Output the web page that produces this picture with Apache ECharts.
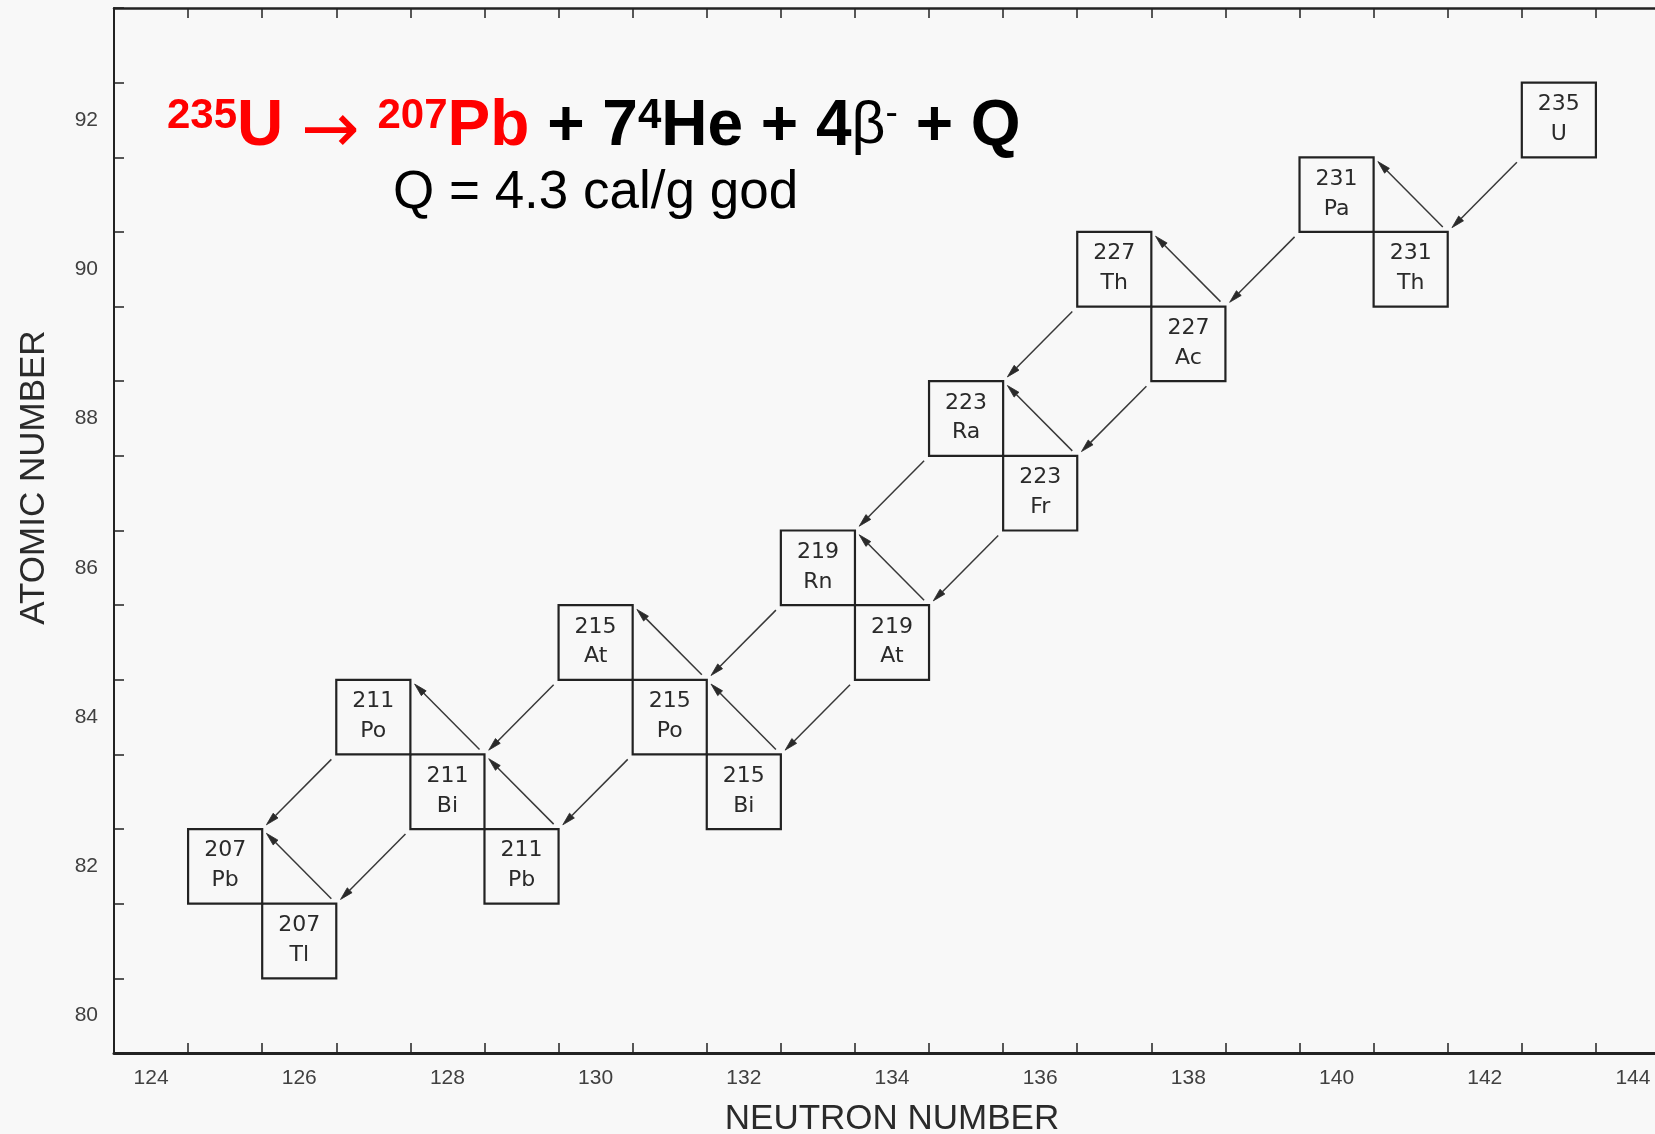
<!DOCTYPE html>
<html>
<head>
<meta charset="utf-8">
<script src="https://cdn.jsdelivr.net/npm/echarts@6/dist/echarts.min.js"></script>
<style>
html,body{margin:0;padding:0;background:#f8f8f8;}
#chart{width:1655px;height:1134px;}
</style>
</head>
<body>
<div id="chart"></div>
<script>
// Axis categories (neutron number N, atomic number Z)
const neutronCategories = ['124','125','126','127','128','129','130','131','132','133','134','135','136','137','138','139','140','141','142','143','144'];
const protonCategories = ['80','81','82','83','84','85','86','87','88','89','90','91','92','93'];

// Nuclides of the 235U decay chain
const massNumbers    = [235, 231, 231, 227, 227, 223, 223, 219, 219, 215, 215, 215, 211, 211, 211, 207, 207];
const elementSymbols = ['U', 'Th','Pa','Ac','Th','Fr','Ra','At','Rn','Bi','Po','At','Pb','Bi','Po','Tl','Pb'];
const neutronNumbers = [143, 141, 140, 138, 137, 136, 135, 134, 133, 132, 131, 130, 129, 128, 127, 126, 125];
const atomicNumbers  = [92,  90,  91,  89,  90,  87,  88,  85,  86,  83,  84,  85,  82,  83,  84,  81,  82];

// Decays: parent index -> daughter index
const decayParent   = [0, 1, 2, 3, 3, 4, 5, 5, 6, 7, 7, 8, 9, 10, 10, 11, 12, 13, 13, 14, 15];
const decayDaughter = [1, 2, 3, 4, 5, 6, 6, 7, 8, 8, 9, 10, 10, 12, 11, 13, 13, 14, 15, 16, 16];

const equationLine2 = 'Q = 4.3 cal/g god';

const chart = echarts.init(document.getElementById('chart'));

const nIdx = n => neutronCategories.indexOf(String(n));
const zIdx = z => protonCategories.indexOf(String(z));

const axisColor = '#222';
const labelColor = '#404040';

const option = {
  backgroundColor: '#f8f8f8',
  animation: false,
  title: [
    {
      text: '{rs|235}{r|U }{arr|→}{r| }{rs|207}{r|Pb}{k| + 7}{ks|4}{k|He + 4}{beta|β}{ksm|-}{k| + Q}',
      left: 167, top: 95, padding: 0,
      textStyle: {
        rich: {
          r:  { color: '#ff0000', fontFamily: 'Liberation Sans', fontWeight: 'bold', fontSize: 64, lineHeight: 64 },
          arr:{ color: '#ff0000', fontFamily: 'DejaVu Sans', fontWeight: 'normal', fontSize: 70, lineHeight: 64, padding: [14, 0, 0, 0] },
          rs: { color: '#ff0000', fontFamily: 'Liberation Sans', fontWeight: 'bold', fontSize: 42, lineHeight: 42, verticalAlign: 'top' },
          k:  { color: '#000', fontFamily: 'Liberation Sans', fontWeight: 'bold', fontSize: 64, lineHeight: 64 },
          ks: { color: '#000', fontFamily: 'Liberation Sans', fontWeight: 'bold', fontSize: 42, lineHeight: 42, verticalAlign: 'top' },
          ksm:{ color: '#000', fontFamily: 'Liberation Sans', fontWeight: 'normal', fontSize: 37, lineHeight: 37, verticalAlign: 'top' },
          beta:{ color: '#000', fontFamily: 'Liberation Sans', fontWeight: 'normal', fontSize: 59, lineHeight: 64 }
        }
      }
    },
    {
      text: equationLine2,
      left: 393, top: 167, padding: 0,
      textStyle: { color: '#000', fontFamily: 'Liberation Sans', fontWeight: 'normal', fontSize: 53, lineHeight: 53 }
    }
  ],
  grid: { left: 114, width: 1556, top: 8, height: 1045, containLabel: false, outerBoundsMode: 'none' },
  xAxis: [
    {
      type: 'category', data: neutronCategories, position: 'bottom', boundaryGap: true,
      name: 'NEUTRON NUMBER', nameLocation: 'middle', nameGap: 49,
      nameTextStyle: { color: '#2a2a2a', fontFamily: 'Liberation Sans', fontSize: 35 },
      axisLine: { lineStyle: { color: axisColor, width: 3 } },
      axisTick: { show: true, inside: true, length: 10, interval: 0, lineStyle: { color: axisColor, width: 1.5 } },
      axisLabel: { interval: 1, margin: 15, color: labelColor, fontFamily: 'Liberation Sans', fontSize: 21 },
      splitLine: { show: false }
    },
    {
      type: 'category', data: neutronCategories, position: 'top', boundaryGap: true,
      axisLine: { lineStyle: { color: axisColor, width: 2.5 } },
      axisTick: { show: true, inside: true, length: 10, interval: 0, lineStyle: { color: axisColor, width: 1.5 } },
      axisLabel: { show: false },
      splitLine: { show: false }
    }
  ],
  yAxis: [
    {
      type: 'category', data: protonCategories, position: 'left', boundaryGap: true,
      name: 'ATOMIC NUMBER', nameLocation: 'middle', nameGap: 62,
      nameTextStyle: { color: '#2a2a2a', fontFamily: 'Liberation Sans', fontSize: 35, padding: [0, 0, 0, 106] },
      axisLine: { lineStyle: { color: axisColor, width: 2 } },
      axisTick: { show: true, inside: true, length: 10, interval: 0, lineStyle: { color: axisColor, width: 1.5 } },
      axisLabel: { interval: 1, margin: 16, color: labelColor, fontFamily: 'Liberation Sans', fontSize: 21, padding: [9, 0, 0, 0] },
      splitLine: { show: false }
    },
    {
      type: 'category', data: protonCategories, position: 'right', boundaryGap: true,
      axisLine: { lineStyle: { color: axisColor, width: 2 } },
      axisTick: { show: true, inside: true, length: 10, interval: 0, lineStyle: { color: axisColor, width: 1.5 } },
      axisLabel: { show: false },
      splitLine: { show: false }
    }
  ],
  series: [
    {
      name: 'decays',
      type: 'custom',
      xAxisIndex: 0, yAxisIndex: 0,
      silent: true,
      data: decayParent.map(p => [String(neutronNumbers[p]), String(atomicNumbers[p])]),
      renderItem: function (params, api) {
        const p = decayParent[params.dataIndex];
        const d = decayDaughter[params.dataIndex];
        const pc = api.coord([nIdx(neutronNumbers[p]), zIdx(atomicNumbers[p])]);
        const dc = api.coord([nIdx(neutronNumbers[d]), zIdx(atomicNumbers[d])]);
        const sz = api.size([1, 1]);
        const hw = sz[0] / 2, hh = sz[1] / 2;
        const isAlpha = atomicNumbers[d] < atomicNumbers[p];
        // start: alpha from parent's lower-left corner, beta from parent's upper-right corner
        let sx = isAlpha ? pc[0] - hw : pc[0] + hw;
        let sy = isAlpha ? pc[1] + hh : pc[1] - hh;
        // end: daughter's upper-right corner
        let ex = dc[0] + hw, ey = dc[1] - hh;
        const dx = ex - sx, dy = ey - sy;
        const len = Math.sqrt(dx * dx + dy * dy);
        const ux = dx / len, uy = dy / len;
        const gapS = 7, gapE = 6;
        sx += ux * gapS; sy += uy * gapS;
        ex -= ux * gapE; ey -= uy * gapE;
        const headL = 13, headW = 3.4;
        const bx = ex - ux * headL, by = ey - uy * headL;
        const px = -uy, py = ux;
        return {
          type: 'group',
          children: [
            {
              type: 'line',
              shape: { x1: sx, y1: sy, x2: bx, y2: by },
              style: { stroke: '#383838', lineWidth: 1.5 }
            },
            {
              type: 'polygon',
              shape: { points: [[ex, ey], [bx + px * headW, by + py * headW], [bx - px * headW, by - py * headW]] },
              style: { fill: '#2a2a2a', stroke: '#2a2a2a', lineWidth: 0.8 }
            }
          ]
        };
      }
    },
    {
      name: 'nuclides',
      type: 'custom',
      xAxisIndex: 0, yAxisIndex: 0,
      silent: true,
      data: neutronNumbers.map((n, i) => [String(n), String(atomicNumbers[i])]),
      renderItem: function (params, api) {
        const i = params.dataIndex;
        const c = api.coord([api.value(0), api.value(1)]);
        const sz = api.size([1, 1]);
        return {
          type: 'group',
          children: [
            {
              type: 'rect',
              shape: { x: c[0] - sz[0] / 2, y: c[1] - sz[1] / 2, width: sz[0], height: sz[1] },
              style: { fill: 'none', stroke: '#222', lineWidth: 2.2 }
            },
            {
              type: 'text',
              x: c[0], y: c[1] - sz[1] * 0.21,
              style: {
                text: String(massNumbers[i]), fill: '#2a2a2a',
                font: '22px "DejaVu Sans"', align: 'center', verticalAlign: 'middle'
              }
            },
            {
              type: 'text',
              x: c[0], y: c[1] + sz[1] * 0.19,
              style: {
                text: elementSymbols[i], fill: '#2a2a2a',
                font: '22px "DejaVu Sans"', align: 'center', verticalAlign: 'middle'
              }
            }
          ]
        };
      }
    }
  ]
};

chart.setOption(option);
</script>
</body>
</html>
